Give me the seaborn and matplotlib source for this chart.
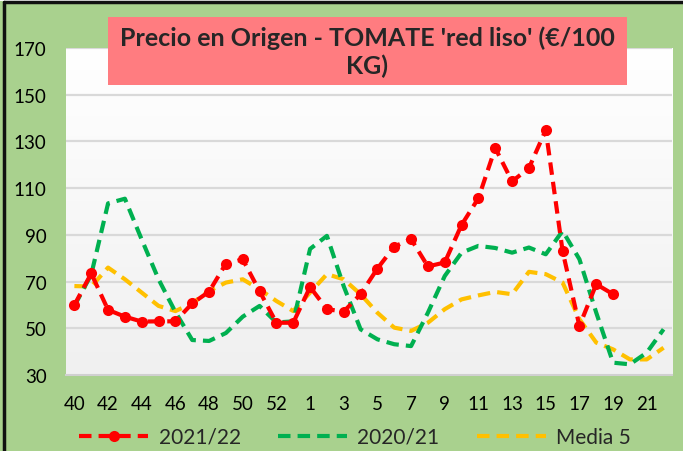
import numpy as np
import pandas as pd
import matplotlib
matplotlib.use("Agg")
import matplotlib.pyplot as plt
import seaborn as sns
from matplotlib.lines import Line2D
from matplotlib.patches import Rectangle

# semanas: 40..53 y 1..22
semanas = [str(s) for s in list(range(40, 54)) + list(range(1, 23))]

precio_2122 = [60.0, 73.5, 57.9, 55.0, 52.9, 53.0, 53.0, 60.7, 65.7, 77.7,
               79.5, 65.9, 52.4, 52.4, 67.7, 58.2, 57.2, 64.6, 75.6, 85.0,
               88.2, 76.5, 78.2, 94.3, 105.7, 127.2, 112.9, 118.6, 134.9, 83.1,
               51.0, 68.9, 64.6, np.nan, np.nan, np.nan]

precio_2021 = [59.6, 73.0, 103.5, 105.5, 88.0, 71.0, 57.0, 45.0, 44.6, 48.0,
               55.0, 59.6, 52.5, 53.0, 84.0, 89.6, 68.0, 49.6, 45.3, 43.2,
               42.4, 56.7, 72.4, 82.4, 85.3, 84.4, 82.4, 84.6, 81.7, 91.7,
               79.6, 56.7, 35.3, 34.6, 39.6, 49.6]

media_5 = [68.1, 67.9, 76.0, 71.0, 65.3, 59.6, 57.4, 60.7, 66.0, 69.6,
           71.0, 66.7, 61.7, 57.4, 65.3, 73.2, 71.0, 64.6, 56.7, 50.3,
           48.9, 52.4, 58.2, 62.4, 64.1, 65.6, 64.6, 74.2, 73.2, 69.6,
           53.9, 43.9, 41.0, 36.7, 36.7, 41.7]

series = ["2021/22", "2020/21", "Media 5"]
colores = {"2021/22": "#ff0000", "2020/21": "#00b050", "Media 5": "#ffc000"}

df = pd.DataFrame({
    "pos": np.arange(len(semanas)),
    "2021/22": precio_2122,
    "2020/21": precio_2021,
    "Media 5": media_5,
})

sns.set_style("white")
plt.rcParams["font.family"] = ["Lato", "DejaVu Sans"]

verde = "#a9d18e"
fig = plt.figure(figsize=(6.83, 4.52), dpi=100, facecolor=verde)
ax = fig.add_axes([0.0966, 0.168, 0.8873, 0.7235])

# fondo degradado del area del grafico
grad = np.linspace(0, 1, 100)[:, None]
ax.imshow(grad, extent=[0, 1, 0, 1], transform=ax.transAxes, aspect="auto",
          cmap=matplotlib.colors.LinearSegmentedColormap.from_list("g", ["#f0f0f0", "#ffffff"]),
          origin="lower", zorder=0)

for y in range(50, 171, 20):
    ax.axhline(y, color="#d9d9d9", lw=1.6, zorder=1)

dash = (3.0, 1.7)
sns.lineplot(data=df, x="pos", y="Media 5", color=colores["Media 5"], lw=3,
             ax=ax, zorder=3).lines[-1].set_dashes(dash)
sns.lineplot(data=df, x="pos", y="2020/21", color=colores["2020/21"], lw=3,
             ax=ax, zorder=4).lines[-1].set_dashes(dash)
sns.lineplot(data=df, x="pos", y="2021/22", color=colores["2021/22"], lw=3,
             marker="o", markersize=8, markeredgewidth=0, ax=ax, zorder=5).lines[-1].set_dashes(dash)

ax.set_xlim(-0.5, len(semanas) - 0.5)
ax.set_ylim(30, 170)
ax.set_yticks(range(30, 171, 20))
ax.set_xticks(np.arange(0, len(semanas), 2))
ax.set_xticklabels(semanas[::2])
ax.tick_params(axis="both", length=0, labelsize=13.5, colors="#000000")
ax.tick_params(axis="x", pad=14)
ax.tick_params(axis="y", pad=14)
ax.set_xlabel("")
ax.set_ylabel("")
for s in ax.spines.values():
    s.set_visible(False)
ax.spines["bottom"].set_visible(True)
ax.spines["bottom"].set_color("#d0d0d0")
ax.spines["bottom"].set_linewidth(1.5)

# titulo en caja
fig.patches.append(Rectangle((108 / 683, 1 - 86 / 452), (627 - 108) / 683, (86 - 18) / 452,
                             transform=fig.transFigure, facecolor="#ff7c80",
                             edgecolor="none", zorder=10))
fig.text(367 / 683, 1 - 52 / 452, "Precio en Origen - TOMATE 'red liso' (€/100\nKG)",
         ha="center", va="center", fontsize=18, fontweight="bold",
         linespacing=1.25, zorder=11)

# borde del marco
fig.add_artist(Line2D([4 / 683, 4 / 683], [0, 1 - 3 / 452], transform=fig.transFigure,
                      color="#111111", lw=2.5))
fig.add_artist(Line2D([4 / 683, 1], [1 - 3 / 452, 1 - 3 / 452], transform=fig.transFigure,
                      color="#111111", lw=2.5))
fig.patches.append(Rectangle((0, 1 - 2 / 452), 1, 2 / 452, transform=fig.transFigure,
                             facecolor="white", edgecolor="none", zorder=0))

handles = [
    Line2D([], [], color=colores["2021/22"], lw=3, dashes=dash, marker="o",
           markersize=8, markeredgewidth=0),
    Line2D([], [], color=colores["2020/21"], lw=3, dashes=dash),
    Line2D([], [], color=colores["Media 5"], lw=3, dashes=dash),
]
fig.legend(handles, series, loc="center", bbox_to_anchor=(0.52, 1 - 438 / 452),
           ncol=3, frameon=False, fontsize=15, handlelength=3.3,
           columnspacing=1.8, handletextpad=0.5, numpoints=1)

fig.savefig("out.png", dpi=100, facecolor=verde)
